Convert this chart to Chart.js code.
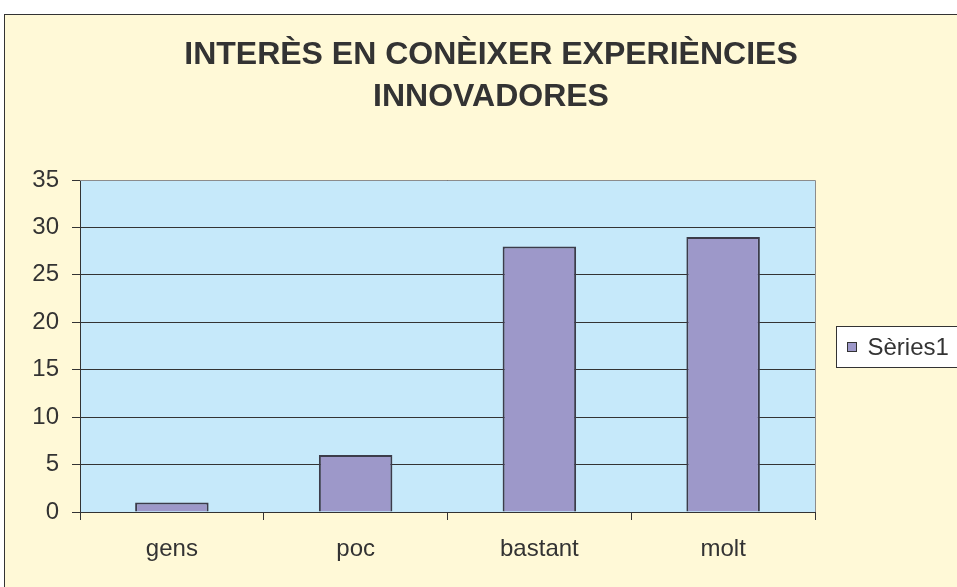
<!DOCTYPE html>
<html>
<head>
<meta charset="utf-8">
<script src="https://cdn.jsdelivr.net/npm/chart.js"></script>
<style>
  html, body { margin: 0; padding: 0; background: #fff; overflow: hidden; }
  #wrap { position: absolute; left: 4px; top: 14px; width: 972px; height: 600px;
          border-left: 1px solid #333; border-top: 1px solid #333; }
</style>
</head>
<body>
<div id="wrap"><canvas id="chart" width="972" height="600"></canvas></div>
<script>
// data
const categories = ["gens", "poc", "bastant", "molt"];
const seriesName = "Sèries1";
const seriesValues = [1, 6, 28, 29];
const titleLines = ["INTERÈS EN CONÈIXER EXPERIÈNCIES", "INNOVADORES"];

const barColor = "#9d98c9";
const font = "'Liberation Sans', Arial, sans-serif";

// backgrounds, plot frame and boxed legend
const framePlugin = {
    id: "frame",
    beforeDraw(chart) {
        const { ctx, chartArea: a } = chart;
        ctx.save();
        ctx.fillStyle = "#fff9d7";
        ctx.fillRect(0, 0, chart.width, chart.height);
        ctx.fillStyle = "#c6e9fa";
        ctx.fillRect(a.left, a.top, a.right - a.left, a.bottom - a.top);
        ctx.restore();
    },
    afterDraw(chart) {
        const { ctx, chartArea: a } = chart;
        ctx.save();
        ctx.strokeStyle = "#8c8c8c";
        ctx.lineWidth = 1;
        ctx.beginPath();
        ctx.moveTo(a.left, a.top + 0.5);
        ctx.lineTo(a.right + 0.5, a.top + 0.5);
        ctx.lineTo(a.right + 0.5, a.bottom);
        ctx.stroke();

        // legend
        const ds = chart.data.datasets[0];
        const bx = a.right + 21.5, bh = 41;
        const by = Math.round((a.top + a.bottom) / 2 - bh / 2) + 0.5;
        ctx.fillStyle = "#fff";
        ctx.fillRect(bx, by, 140, bh);
        ctx.strokeStyle = "#333";
        ctx.strokeRect(bx, by, 140, bh);
        ctx.fillStyle = ds.backgroundColor;
        ctx.fillRect(bx + 11, by + 16, 9, 9);
        ctx.strokeRect(bx + 11, by + 16, 9, 9);
        ctx.fillStyle = "#333";
        ctx.font = "24px " + font;
        ctx.textBaseline = "middle";
        ctx.fillText(ds.label, bx + 31, by + bh / 2 + 1);
        ctx.restore();
    }
};

new Chart(document.getElementById("chart"), {
    type: "bar",
    data: {
        labels: categories,
        datasets: [{
            label: seriesName,
            data: seriesValues,
            backgroundColor: barColor,
            borderColor: "#3c3c4a",
            borderWidth: 2,
            barPercentage: 0.4,
            categoryPercentage: 1.0
        }]
    },
    options: {
        responsive: false,
        animation: false,
        plugins: {
            legend: { display: false },
            tooltip: { enabled: false },
            title: {
                display: true,
                text: titleLines,
                color: "#333",
                font: { family: font, size: 32, weight: "bold", lineHeight: 1.3125 },
                padding: { top: 19, bottom: 62 }
            }
        },
        scales: {
            x: {
                grid: { offset: true, drawOnChartArea: false, drawTicks: true, tickLength: 8, color: "#333" },
                border: { display: true, color: "#333" },
                ticks: { color: "#333", padding: 15, font: { family: font, size: 24 } },
                afterFit(s) { s.height = 103; }
            },
            y: {
                min: 0,
                max: 35,
                ticks: { stepSize: 5, color: "#333", padding: 13, font: { family: font, size: 24 } },
                grid: { color: "#333", tickLength: 8 },
                border: { display: true, color: "#333" },
                afterFit(s) { s.width = 75; }
            },
            side: {
                position: "right",
                grid: { display: false, drawTicks: false },
                ticks: { display: false },
                border: { display: false },
                afterFit(s) { s.width = 162; }
            }
        }
    },
    plugins: [framePlugin]
});
</script>
</body>
</html>
